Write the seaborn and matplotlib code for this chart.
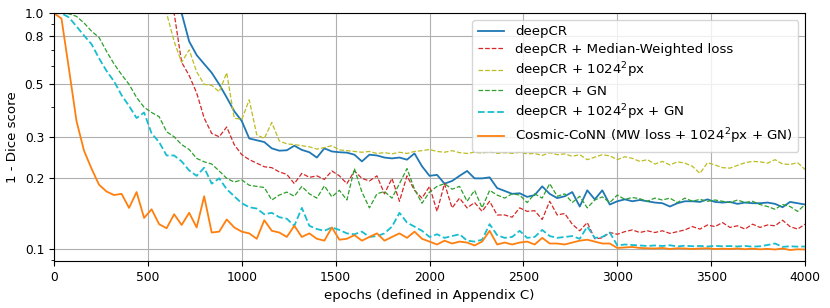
import numpy as np
import pandas as pd
import seaborn as sns
import matplotlib
matplotlib.use("Agg")
import matplotlib.pyplot as plt
from matplotlib.ticker import NullFormatter, FixedLocator, FixedFormatter

# epochs sampled every 40
epochs = np.arange(0, 4001, 40)

# values above 1.0 are off the top of the chart (clipped)
deepcr = [
    4.0, 3.8, 3.5, 3.2, 2.9, 2.6, 2.4, 2.2, 2.0, 1.85,
    1.7, 1.6, 1.5, 1.42, 1.35, 1.28, 1.18, 1.0, 0.76, 0.665,
    0.61, 0.56, 0.5, 0.44, 0.385, 0.35, 0.295, 0.29, 0.285, 0.268,
    0.262, 0.263, 0.275, 0.264, 0.258, 0.245, 0.268, 0.26, 0.258, 0.257,
    0.252, 0.236, 0.252, 0.25, 0.245, 0.243, 0.245, 0.24, 0.255, 0.225,
    0.205, 0.207, 0.19, 0.195, 0.205, 0.215, 0.2, 0.2, 0.202, 0.182,
    0.177, 0.172, 0.173, 0.167, 0.17, 0.185, 0.172, 0.165, 0.168, 0.175,
    0.152, 0.178, 0.163, 0.178, 0.155, 0.16, 0.163, 0.16, 0.162, 0.16,
    0.158, 0.157, 0.152, 0.157, 0.16, 0.16, 0.159, 0.163, 0.159, 0.158,
    0.159, 0.156, 0.158, 0.157, 0.157, 0.158, 0.156, 0.151, 0.159, 0.157,
    0.155,
]

mw_loss = [
    4.0, 3.8, 3.6, 3.4, 3.2, 3.0, 2.8, 2.6, 2.4, 2.2,
    2.0, 1.8, 1.65, 1.5, 1.38, 1.2, 1.0, 0.62, 0.545, 0.46,
    0.36, 0.31, 0.3, 0.33, 0.278, 0.252, 0.24, 0.232, 0.224, 0.222,
    0.213, 0.208, 0.19, 0.21, 0.202, 0.205, 0.198, 0.215, 0.205, 0.19,
    0.215, 0.2, 0.195, 0.205, 0.172, 0.2, 0.16, 0.205, 0.178, 0.165,
    0.185, 0.145, 0.19, 0.15, 0.165, 0.15, 0.158, 0.145, 0.16, 0.14,
    0.14, 0.137, 0.15, 0.145, 0.146, 0.134, 0.16, 0.14, 0.142, 0.128,
    0.12, 0.13, 0.111, 0.112, 0.118, 0.116, 0.119, 0.121, 0.118, 0.12,
    0.118, 0.12, 0.117, 0.119, 0.121, 0.125, 0.122, 0.127, 0.125, 0.13,
    0.124, 0.126, 0.122, 0.128, 0.124, 0.127, 0.126, 0.133, 0.125, 0.122,
    0.128,
]

px1024 = [
    5.0, 4.7, 4.4, 4.1, 3.8, 3.5, 3.2, 2.9, 2.6, 2.3,
    2.0, 1.75, 1.5, 1.3, 1.12, 1.0, 0.76, 0.62, 0.7, 0.565,
    0.5, 0.495, 0.465, 0.56, 0.36, 0.355, 0.43, 0.306, 0.295, 0.345,
    0.288, 0.28, 0.278, 0.275, 0.272, 0.266, 0.27, 0.275, 0.264, 0.262,
    0.26, 0.258, 0.26, 0.255, 0.257, 0.254, 0.258, 0.255, 0.26, 0.262,
    0.265, 0.26, 0.258, 0.262, 0.257, 0.255, 0.258, 0.256, 0.259, 0.255,
    0.257, 0.255, 0.258, 0.254, 0.255, 0.25, 0.257, 0.252, 0.254, 0.248,
    0.252, 0.24, 0.246, 0.252, 0.249, 0.24, 0.247, 0.243, 0.236, 0.24,
    0.23, 0.236, 0.228, 0.235, 0.232, 0.225, 0.21, 0.233, 0.228, 0.222,
    0.221, 0.227, 0.233, 0.236, 0.235, 0.232, 0.24, 0.23, 0.229, 0.233,
    0.218,
]

gn = [
    1.0, 1.0, 0.995, 0.97, 0.91, 0.84, 0.79, 0.69, 0.61, 0.55,
    0.5, 0.44, 0.4, 0.38, 0.365, 0.315, 0.3, 0.278, 0.265, 0.243,
    0.235, 0.23, 0.215, 0.2, 0.193, 0.197, 0.187, 0.185, 0.183, 0.162,
    0.17, 0.175, 0.168, 0.185, 0.172, 0.165, 0.186, 0.167, 0.178, 0.162,
    0.22, 0.175, 0.15, 0.172, 0.176, 0.165, 0.19, 0.22, 0.18, 0.157,
    0.175, 0.185, 0.19, 0.18, 0.185, 0.16, 0.178, 0.15, 0.178, 0.17,
    0.165, 0.172, 0.17, 0.158, 0.172, 0.165, 0.19, 0.168, 0.172, 0.158,
    0.168, 0.15, 0.162, 0.167, 0.158, 0.17, 0.163, 0.166, 0.164, 0.16,
    0.165, 0.162, 0.165, 0.158, 0.165, 0.16, 0.163, 0.16, 0.162, 0.16,
    0.158, 0.162, 0.158, 0.16, 0.155, 0.152, 0.148, 0.155, 0.152, 0.145,
    0.155,
]

px1024_gn = [
    1.0, 1.0, 0.96, 0.88, 0.805, 0.74, 0.645, 0.57, 0.515, 0.45,
    0.405, 0.36, 0.38, 0.31, 0.285, 0.25, 0.25, 0.236, 0.216, 0.205,
    0.222, 0.19, 0.2, 0.18, 0.168, 0.157, 0.151, 0.149, 0.141, 0.143,
    0.137, 0.135, 0.126, 0.15, 0.126, 0.122, 0.12, 0.124, 0.121, 0.117,
    0.116, 0.119, 0.113, 0.114, 0.117, 0.125, 0.143, 0.13, 0.125, 0.12,
    0.113, 0.116, 0.112, 0.114, 0.116, 0.109, 0.108, 0.11, 0.128, 0.115,
    0.112, 0.113, 0.12, 0.112, 0.113, 0.121, 0.114, 0.112, 0.113, 0.114,
    0.111, 0.125, 0.112, 0.113, 0.118, 0.104, 0.105, 0.1045, 0.104, 0.1035,
    0.104, 0.1035, 0.1042, 0.103, 0.1038, 0.1032, 0.1035, 0.103, 0.1036, 0.1032,
    0.1034, 0.103, 0.1035, 0.1028, 0.1032, 0.1045, 0.106, 0.1026, 0.1032, 0.1028,
    0.103,
]

cosmic = [
    1.0, 0.95, 0.58, 0.35, 0.262, 0.22, 0.188, 0.176, 0.17, 0.172,
    0.15, 0.175, 0.136, 0.148, 0.128, 0.123, 0.141, 0.127, 0.143, 0.124,
    0.168, 0.118, 0.119, 0.134, 0.124, 0.119, 0.117, 0.111, 0.133, 0.12,
    0.118, 0.113, 0.126, 0.113, 0.117, 0.111, 0.109, 0.124, 0.11, 0.111,
    0.115, 0.109, 0.113, 0.117, 0.109, 0.113, 0.117, 0.112, 0.119, 0.111,
    0.108, 0.105, 0.109, 0.106, 0.108, 0.107, 0.104, 0.108, 0.12, 0.105,
    0.107, 0.105, 0.107, 0.108, 0.105, 0.112, 0.106, 0.106, 0.105, 0.107,
    0.109, 0.11, 0.108, 0.106, 0.106, 0.1015, 0.102, 0.1025, 0.1015, 0.1012,
    0.101, 0.1015, 0.1005, 0.1012, 0.101, 0.1005, 0.101, 0.1012, 0.1005, 0.1008,
    0.1005, 0.101, 0.1003, 0.1008, 0.1002, 0.1006, 0.1, 0.101, 0.0995, 0.1002,
    0.1,
]

labels = [
    "deepCR",
    "deepCR + Median-Weighted loss",
    "deepCR + 1024$^2$px",
    "deepCR + GN",
    "deepCR + 1024$^2$px + GN",
    "Cosmic-CoNN (MW loss + 1024$^2$px + GN)",
]
series = [deepcr, mw_loss, px1024, gn, px1024_gn, cosmic]
colors = ["#1f77b4", "#d62728", "#bcbd22", "#2ca02c", "#17becf", "#ff7f0e"]
styles = ["-", "--", "--", "--", "--", "-"]
widths = [1.3, 0.9, 0.9, 0.9, 1.3, 1.3]

fig = plt.figure(figsize=(8.3, 3.08), dpi=100)
ax = fig.add_axes([0.065, 0.153, 0.905, 0.804])

for lab, vals, c, ls, lw in zip(labels, series, colors, styles, widths):
    df = pd.DataFrame({"epoch": epochs, "score": vals})
    sns.lineplot(data=df, x="epoch", y="score", ax=ax, color=c,
                 linestyle=ls, linewidth=lw, label=lab)

ax.set_yscale("log")
ax.set_ylim(0.0895, 1.0)
ax.set_xlim(0, 4000)
yt = [0.1, 0.2, 0.3, 0.5, 0.8, 1.0]
ax.yaxis.set_major_locator(FixedLocator(yt))
ax.yaxis.set_major_formatter(FixedFormatter(["0.1", "0.2", "0.3", "0.5", "0.8", "1.0"]))
ax.yaxis.set_minor_formatter(NullFormatter())
ax.set_xticks(range(0, 4001, 500))
ax.tick_params(labelsize=8.8)
ax.grid(True, which="major", color="#b0b0b0", linewidth=0.8)
ax.set_xlabel("epochs (defined in Appendix C)", fontsize=9.6)
ax.set_ylabel("1 - Dice score", fontsize=9.6)
ax.legend(loc="upper right", fontsize=9.6, labelspacing=0.35)

fig.savefig("out.png", dpi=100)
